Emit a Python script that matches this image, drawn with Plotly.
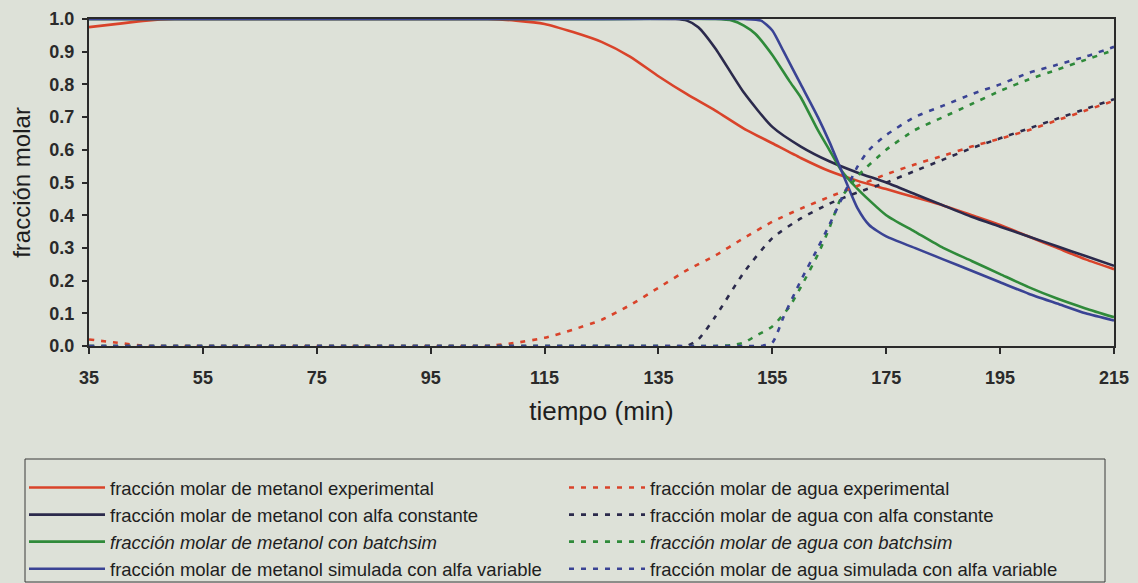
import plotly.graph_objects as go

# Methanol / water mole fraction in the distillate over time (min)
t_exp = [35, 40, 45, 50, 60, 70, 80, 90, 100, 105, 110, 115, 120, 125, 130, 135, 140, 145,
         150, 155, 160, 165, 170, 175, 180, 185, 190, 195, 200, 205, 210, 215]
metanol_exp = [0.975, 0.985, 0.995, 1.0, 1.0, 1.0, 1.0, 1.0, 1.0, 1.0, 0.995, 0.985, 0.96, 0.93,
               0.885, 0.825, 0.77, 0.72, 0.665, 0.62, 0.575, 0.535, 0.505, 0.48, 0.455, 0.43,
               0.40, 0.37, 0.335, 0.30, 0.265, 0.235]
agua_exp = [0.02, 0.01, 0.0, 0.0, 0.0, 0.0, 0.0, 0.0, 0.0, 0.0, 0.01, 0.025, 0.05, 0.08,
            0.125, 0.178, 0.232, 0.277, 0.33, 0.38, 0.42, 0.456, 0.49, 0.525, 0.555, 0.582,
            0.61, 0.634, 0.66, 0.69, 0.72, 0.75]

t_cte = [35, 60, 90, 120, 138, 140, 142, 145, 150, 155, 160, 165, 170, 175, 180, 185, 190,
         195, 200, 205, 210, 215]
metanol_cte = [1.0, 1.0, 1.0, 1.0, 1.0, 0.995, 0.975, 0.91, 0.775, 0.67, 0.61, 0.565, 0.53,
               0.50, 0.465, 0.43, 0.395, 0.365, 0.335, 0.305, 0.275, 0.245]
agua_cte = [0.0, 0.0, 0.0, 0.0, 0.0, 0.0, 0.02, 0.09, 0.225, 0.33, 0.39, 0.435, 0.47, 0.50,
            0.535, 0.57, 0.605, 0.635, 0.665, 0.695, 0.725, 0.755]

t_bs = [35, 60, 90, 120, 145, 148, 150, 152, 155, 158, 160, 163, 165, 167, 170, 175, 180,
        185, 190, 195, 200, 205, 210, 215]
metanol_bs = [1.0, 1.0, 1.0, 1.0, 1.0, 0.995, 0.98, 0.955, 0.89, 0.81, 0.76, 0.66, 0.60, 0.54,
              0.48, 0.40, 0.35, 0.30, 0.26, 0.22, 0.18, 0.145, 0.115, 0.088]
agua_bs = [0.0, 0.0, 0.0, 0.0, 0.0, 0.003, 0.01, 0.03, 0.06, 0.12, 0.18, 0.28, 0.36, 0.45,
           0.52, 0.60, 0.66, 0.70, 0.74, 0.78, 0.815, 0.845, 0.875, 0.905]

t_var = [35, 60, 90, 120, 150, 153, 155, 157, 160, 163, 165, 168, 170, 172, 175, 180, 185,
         190, 195, 200, 205, 210, 215]
metanol_var = [1.0, 1.0, 1.0, 1.0, 1.0, 0.995, 0.965, 0.90, 0.80, 0.70, 0.625, 0.50, 0.42,
               0.37, 0.335, 0.30, 0.265, 0.23, 0.195, 0.16, 0.13, 0.10, 0.078]
agua_var = [0.0, 0.0, 0.0, 0.0, 0.0, 0.0, 0.01, 0.09, 0.20, 0.30, 0.37, 0.48, 0.55, 0.60,
            0.645, 0.70, 0.735, 0.77, 0.80, 0.835, 0.86, 0.885, 0.915]

x_ticks = [35, 55, 75, 95, 115, 135, 155, 175, 195, 215]
y_ticks = [0.0, 0.1, 0.2, 0.3, 0.4, 0.5, 0.6, 0.7, 0.8, 0.9, 1.0]

RED = "#d9432a"
NAVY = "#2b2a4c"
GREEN = "#2f8a3a"
BLUE = "#3a4394"
PAPER = "#dde1d8"
INK = "#2a2a2a"
TEXT = "#1e1e1e"
DASH = "5px,7px"

W, H = 1138, 583
M_L, M_R, M_T, M_B = 89, 24, 19, 237
PLOT_W = W - M_L - M_R
PLOT_H = H - M_T - M_B

series = [
    # (name, x, y, color, dash, legend)
    ("fracción molar de metanol experimental", t_exp, metanol_exp, RED, "solid", "legend"),
    ("fracción molar de metanol con alfa constante", t_cte, metanol_cte, NAVY, "solid", "legend"),
    ("<i>fracción molar de metanol con batchsim</i>", t_bs, metanol_bs, GREEN, "solid", "legend"),
    ("fracción molar de metanol simulada con alfa variable", t_var, metanol_var, BLUE, "solid", "legend"),
    ("fracción molar de agua experimental", t_exp, agua_exp, RED, DASH, "legend2"),
    ("fracción molar de agua con alfa constante", t_cte, agua_cte, NAVY, DASH, "legend2"),
    ("<i>fracción molar de agua con batchsim</i>", t_bs, agua_bs, GREEN, DASH, "legend2"),
    ("fracción molar de agua simulada con alfa variable", t_var, agua_var, BLUE, DASH, "legend2"),
]

fig = go.Figure()
for name, xs, ys, color, dash, leg in series:
    fig.add_trace(go.Scatter(
        x=xs, y=ys, name=name, mode="lines",
        line=dict(color=color, width=2.6, dash=dash, shape="spline", smoothing=0.6),
        legend=leg,
    ))

font_family = "Liberation Sans, Arial, sans-serif"
legend_font = dict(size=18.5, family=font_family, color=TEXT)


def px_to_paper(px, py):
    return (px - M_L) / PLOT_W, (H - M_B - py) / PLOT_H


def legend_at(px, py):
    x, y = px_to_paper(px, py)
    return dict(
        x=x, y=y, xanchor="left", yanchor="top",
        orientation="v", itemwidth=76,
        bgcolor="rgba(0,0,0,0)", borderwidth=0,
        font=legend_font, tracegroupgap=0, traceorder="normal",
    )


# frame around both legend columns
bx0, by0 = px_to_paper(25, 582)
bx1, by1 = px_to_paper(1105, 459)
fig.add_shape(
    type="rect", xref="paper", yref="paper",
    x0=bx0, x1=bx1, y0=by0, y1=by1,
    line=dict(color="#3a3a3a", width=1), fillcolor="rgba(0,0,0,0)", layer="above",
)

fig.update_layout(
    width=W, height=H,
    margin=dict(l=M_L, r=M_R, t=M_T, b=M_B, autoexpand=False),
    paper_bgcolor=PAPER, plot_bgcolor=PAPER,
    font=dict(family=font_family, color=TEXT),
    showlegend=True,
    legend=legend_at(24, 469),
    legend2=legend_at(564, 469),
    xaxis=dict(
        range=[35, 215], tickvals=x_ticks, ticktext=[f"<b>{v}</b>" for v in x_ticks],
        showgrid=False, zeroline=False,
        showline=True, linecolor=INK, linewidth=2, mirror=True,
        ticks="outside", ticklen=6, tickwidth=1.5, tickcolor=INK,
        tickfont=dict(size=18, color="#2a2a2a"), ticklabelstandoff=8,
        title=dict(text="tiempo (min)", font=dict(size=26), standoff=15),
    ),
    yaxis=dict(
        range=[0, 1.0], tickvals=y_ticks, ticktext=[f"<b>{v:.1f}</b>" for v in y_ticks],
        showgrid=False, zeroline=False,
        showline=True, linecolor=INK, linewidth=2, mirror=True,
        ticks="outside", ticklen=5, tickwidth=1.5, tickcolor=INK,
        tickfont=dict(size=18, color="#2a2a2a"), ticklabelstandoff=4,
        title=dict(text="fracción molar", font=dict(size=24), standoff=12),
    ),
)

fig.write_html("out.html")
